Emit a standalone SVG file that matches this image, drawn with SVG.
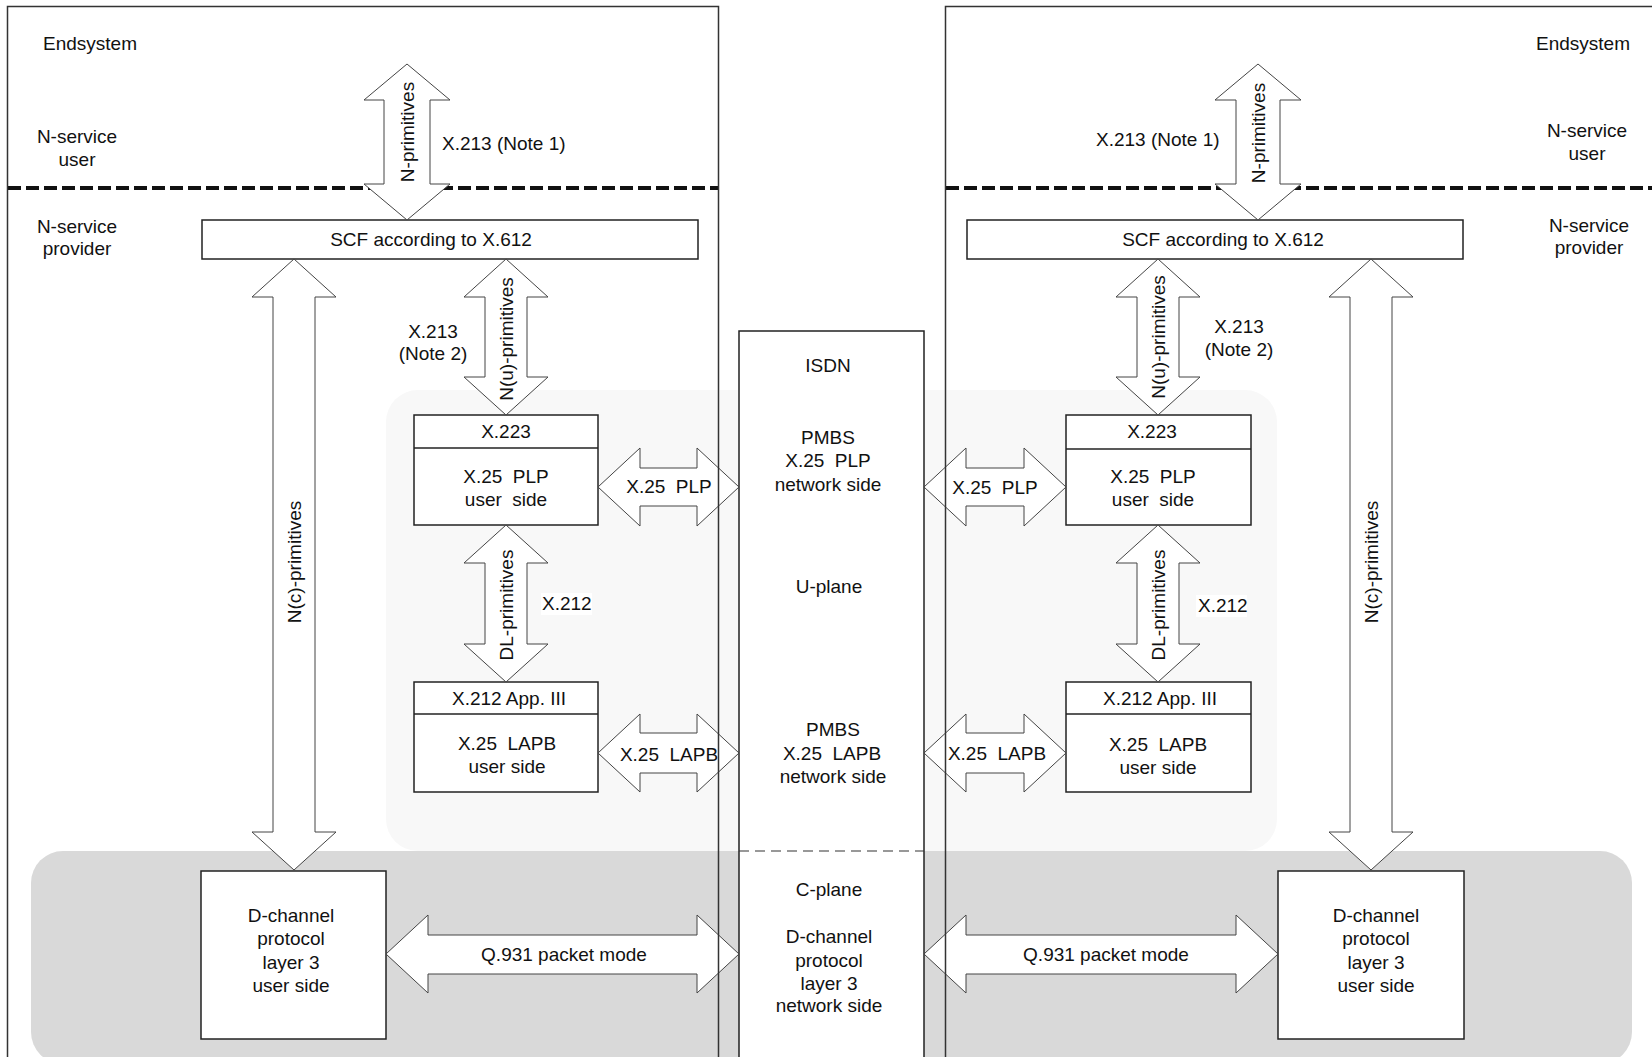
<svg xmlns="http://www.w3.org/2000/svg" width="1652" height="1057" viewBox="0 0 1652 1057">
<style>
text{font-family:"Liberation Sans",Arial,sans-serif;font-size:19px;fill:#111}
.c{text-anchor:middle}
.box{fill:#fff;stroke:#222;stroke-width:1.5}
.sys{fill:none;stroke:#333;stroke-width:1.5}
.arr{fill:#fff;stroke:#444;stroke-width:1}
.div{stroke:#222;stroke-width:1.5}
</style>
<rect width="1652" height="1057" fill="#fff"/>
<g id="regions">
<rect id="u-plane-region" x="386" y="390" width="891" height="461" rx="32" fill="#f8f8f8"/>
<rect id="c-plane-region" x="31" y="851" width="1601" height="213" rx="32" fill="#d9d9d9"/>
</g>
<g id="service-boundary" stroke="#111" stroke-width="4" stroke-dasharray="13 5">
<line x1="8" y1="188" x2="718" y2="188"/>
<line x1="946" y1="188" x2="1652" y2="188"/>
</g>
<g id="isdn">
<rect class="box" x="739" y="331" width="185" height="740"/>
<line x1="739" y1="851" x2="924" y2="851" stroke="#333" stroke-width="1.2" stroke-dasharray="10 6"/>
<text class="c" x="828" y="372">ISDN</text>
<text class="c" x="828" y="444">PMBS</text>
<text class="c" x="828" y="467" xml:space="preserve">X.25  PLP</text>
<text class="c" x="828" y="491">network side</text>
<text class="c" x="829" y="593">U-plane</text>
<text class="c" x="833" y="736">PMBS</text>
<text class="c" x="832" y="760" xml:space="preserve">X.25  LAPB</text>
<text class="c" x="833" y="783">network side</text>
<text class="c" x="829" y="896">C-plane</text>
<text class="c" x="829" y="943">D-channel</text>
<text class="c" x="829" y="967">protocol</text>
<text class="c" x="829" y="990">layer 3</text>
<text class="c" x="829" y="1012">network side</text>
</g>
<g id="scf-left">
<rect class="box" x="202" y="220" width="496" height="39"/>
<text class="c" x="431" y="246">SCF according to X.612</text>
</g>
<g id="scf-right">
<rect class="box" x="967" y="220" width="496" height="39"/>
<text class="c" x="1223" y="246">SCF according to X.612</text>
</g>
<g id="x25plp-left">
<rect class="box" x="414" y="415" width="184" height="110"/>
<line class="div" x1="414" y1="448" x2="598" y2="448"/>
<text class="c" x="506" y="438">X.223</text>
<text class="c" x="506" y="483" xml:space="preserve">X.25  PLP</text>
<text class="c" x="506" y="506" xml:space="preserve">user  side</text>
</g>
<g id="x25plp-right">
<rect class="box" x="1066" y="415" width="185" height="110"/>
<line class="div" x1="1066" y1="449" x2="1251" y2="449"/>
<text class="c" x="1152" y="438">X.223</text>
<text class="c" x="1153" y="483" xml:space="preserve">X.25  PLP</text>
<text class="c" x="1153" y="506" xml:space="preserve">user  side</text>
</g>
<g id="x25lapb-left">
<rect class="box" x="414" y="682" width="184" height="110"/>
<line class="div" x1="414" y1="714" x2="598" y2="714"/>
<text class="c" x="509" y="705">X.212 App. III</text>
<text class="c" x="507" y="750" xml:space="preserve">X.25  LAPB</text>
<text class="c" x="507" y="773">user side</text>
</g>
<g id="x25lapb-right">
<rect class="box" x="1066" y="682" width="185" height="110"/>
<line class="div" x1="1066" y1="714" x2="1251" y2="714"/>
<text class="c" x="1160" y="705">X.212 App. III</text>
<text class="c" x="1158" y="751" xml:space="preserve">X.25  LAPB</text>
<text class="c" x="1158" y="774">user side</text>
</g>
<g id="dchannel-left">
<rect class="box" x="201" y="871" width="185" height="168"/>
<text class="c" x="291" y="922">D-channel</text>
<text class="c" x="291" y="945">protocol</text>
<text class="c" x="291" y="969">layer 3</text>
<text class="c" x="291" y="992">user side</text>
</g>
<g id="dchannel-right">
<rect class="box" x="1278" y="871" width="186" height="168"/>
<text class="c" x="1376" y="922">D-channel</text>
<text class="c" x="1376" y="945">protocol</text>
<text class="c" x="1376" y="969">layer 3</text>
<text class="c" x="1376" y="992">user side</text>
</g>
<g id="connectors">
<path class="arr" d="M407 64 L450 100 L430 100 L430 184 L450 184 L407 220 L364 184 L384 184 L384 100 L364 100 Z"/>
<path class="arr" d="M1258 64 L1301 100 L1280 100 L1280 184 L1301 184 L1258 220 L1215 184 L1236 184 L1236 100 L1215 100 Z"/>
<path class="arr" d="M294 259 L336 297 L315 297 L315 832 L336 832 L294 870 L252 832 L273 832 L273 297 L252 297 Z"/>
<path class="arr" d="M1371 259 L1413 297 L1392 297 L1392 832 L1413 832 L1371 870 L1329 832 L1350 832 L1350 297 L1329 297 Z"/>
<path class="arr" d="M506 259 L548 297 L527 297 L527 377 L548 377 L506 415 L464 377 L485 377 L485 297 L464 297 Z"/>
<path class="arr" d="M1158 259 L1200 297 L1179 297 L1179 377 L1200 377 L1158 415 L1116 377 L1137 377 L1137 297 L1116 297 Z"/>
<path class="arr" d="M506 525 L548 563 L527 563 L527 644 L548 644 L506 682 L464 644 L485 644 L485 563 L464 563 Z"/>
<path class="arr" d="M1158 525 L1200 563 L1179 563 L1179 644 L1200 644 L1158 682 L1116 644 L1137 644 L1137 563 L1116 563 Z"/>
<path class="arr" d="M598 487 L640 448 L640 468 L697 468 L697 448 L739 487 L697 526 L697 506 L640 506 L640 526 Z"/>
<path class="arr" d="M924 487 L966 448 L966 468 L1024 468 L1024 448 L1066 487 L1024 526 L1024 506 L966 506 L966 526 Z"/>
<path class="arr" d="M598 753 L640 714 L640 733 L697 733 L697 714 L739 753 L697 792 L697 773 L640 773 L640 792 Z"/>
<path class="arr" d="M924 753 L966 714 L966 733 L1024 733 L1024 714 L1066 753 L1024 792 L1024 773 L966 773 L966 792 Z"/>
<path class="arr" d="M386 954 L428 915 L428 935 L697 935 L697 915 L739 954 L697 993 L697 974 L428 974 L428 993 Z"/>
<path class="arr" d="M924 954 L966 915 L966 935 L1236 935 L1236 915 L1278 954 L1236 993 L1236 974 L966 974 L966 993 Z"/>
<text class="c" transform="translate(414,132) rotate(-90)">N-primitives</text>
<text class="c" transform="translate(1265,133) rotate(-90)">N-primitives</text>
<text class="c" transform="translate(301,562) rotate(-90)">N(c)-primitives</text>
<text class="c" transform="translate(1378,562) rotate(-90)">N(c)-primitives</text>
<text class="c" transform="translate(513,339) rotate(-90)">N(u)-primitives</text>
<text class="c" transform="translate(1165,337) rotate(-90)">N(u)-primitives</text>
<text class="c" transform="translate(513,605) rotate(-90)">DL-primitives</text>
<text class="c" transform="translate(1165,605) rotate(-90)">DL-primitives</text>
<text class="c" x="669" y="493" xml:space="preserve">X.25  PLP</text>
<text class="c" x="995" y="494" xml:space="preserve">X.25  PLP</text>
<text class="c" x="669" y="761" xml:space="preserve">X.25  LAPB</text>
<text class="c" x="997" y="760" xml:space="preserve">X.25  LAPB</text>
<text class="c" x="564" y="961">Q.931 packet mode</text>
<text class="c" x="1106" y="961">Q.931 packet mode</text>
<text x="442" y="150">X.213 (Note 1)</text>
<text x="1096" y="146">X.213 (Note 1)</text>
<text class="c" x="433" y="338">X.213</text>
<text class="c" x="433" y="360">(Note 2)</text>
<text class="c" x="1239" y="333">X.213</text>
<text class="c" x="1239" y="356">(Note 2)</text>
<rect x="541" y="593" width="51" height="22" fill="#fff"/>
<text x="542" y="610">X.212</text>
<rect x="1196" y="595" width="51" height="22" fill="#fff"/>
<text x="1198" y="612">X.212</text>
</g>
<g id="endsystem-left">
<path class="sys" d="M7.5 1070 V6.5 H718.5 V1070"/>
<text class="c" x="90" y="50">Endsystem</text>
<text class="c" x="77" y="143">N-service</text>
<text class="c" x="77" y="166">user</text>
<text class="c" x="77" y="233">N-service</text>
<text class="c" x="77" y="255">provider</text>
</g>
<g id="endsystem-right">
<path class="sys" d="M945.5 1070 V6.5 H1660"/>
<text class="c" x="1583" y="50">Endsystem</text>
<text class="c" x="1587" y="137">N-service</text>
<text class="c" x="1587" y="160">user</text>
<text class="c" x="1589" y="232">N-service</text>
<text class="c" x="1589" y="254">provider</text>
</g>
</svg>
